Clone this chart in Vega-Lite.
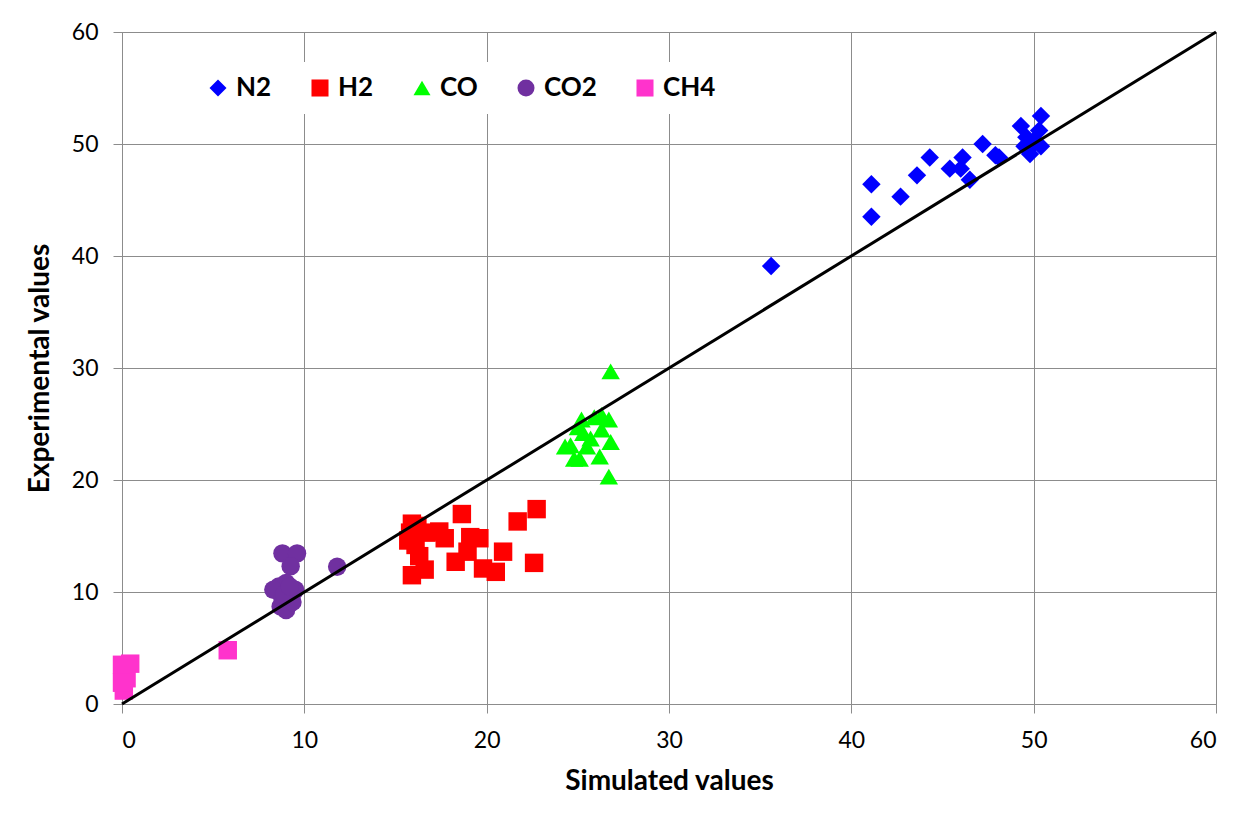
{
  "$schema": "https://vega.github.io/schema/vega-lite/v6.json",
  "width": 1094,
  "height": 672,
  "autosize": {"type": "none"},
  "padding": {"left": 122, "top": 32, "right": 29, "bottom": 110},
  "background": "white",
  "config": {
    "font": "Lato",
    "view": {"stroke": "#8c8c8c", "strokeWidth": 1},
    "axis": {
      "grid": true,
      "gridColor": "#8c8c8c",
      "gridWidth": 1,
      "gridOpacity": 1,
      "domainColor": "#8c8c8c",
      "domainWidth": 1,
      "tickColor": "#8c8c8c",
      "tickSize": 9,
      "tickWidth": 1,
      "labelFont": "Lato",
      "labelFontSize": 23,
      "labelColor": "black",
      "titleFont": "Lato",
      "titleFontSize": 28,
      "titleFontWeight": "bold",
      "titleColor": "black"
    }
  },
  "datasets": {
    "points": [
      {"gas": "N2", "sim": 35.6, "exp": 39.1},
      {"gas": "N2", "sim": 41.1, "exp": 46.4},
      {"gas": "N2", "sim": 41.1, "exp": 43.5},
      {"gas": "N2", "sim": 42.7, "exp": 45.3},
      {"gas": "N2", "sim": 43.6, "exp": 47.2},
      {"gas": "N2", "sim": 44.3, "exp": 48.8},
      {"gas": "N2", "sim": 45.4, "exp": 47.8},
      {"gas": "N2", "sim": 46.1, "exp": 48.8},
      {"gas": "N2", "sim": 46.0, "exp": 47.8},
      {"gas": "N2", "sim": 46.5, "exp": 46.8},
      {"gas": "N2", "sim": 47.2, "exp": 50.0},
      {"gas": "N2", "sim": 47.9, "exp": 49.0},
      {"gas": "N2", "sim": 48.1, "exp": 48.8},
      {"gas": "N2", "sim": 49.3, "exp": 51.6},
      {"gas": "N2", "sim": 50.4, "exp": 52.5},
      {"gas": "N2", "sim": 50.3, "exp": 51.2},
      {"gas": "N2", "sim": 49.5, "exp": 49.8},
      {"gas": "N2", "sim": 49.8, "exp": 49.1},
      {"gas": "N2", "sim": 50.4, "exp": 49.8},
      {"gas": "N2", "sim": 50.0, "exp": 50.3},
      {"gas": "N2", "sim": 49.6, "exp": 50.6},
      {"gas": "N2", "sim": 49.7, "exp": 49.5},
      {"gas": "H2", "sim": 15.9, "exp": 16.1},
      {"gas": "H2", "sim": 15.8, "exp": 15.3},
      {"gas": "H2", "sim": 16.1, "exp": 14.2},
      {"gas": "H2", "sim": 16.3, "exp": 13.2},
      {"gas": "H2", "sim": 16.7, "exp": 15.3},
      {"gas": "H2", "sim": 17.4, "exp": 15.4},
      {"gas": "H2", "sim": 17.7, "exp": 14.8},
      {"gas": "H2", "sim": 18.64, "exp": 16.96},
      {"gas": "H2", "sim": 19.1, "exp": 14.9},
      {"gas": "H2", "sim": 19.6, "exp": 14.8},
      {"gas": "H2", "sim": 18.95, "exp": 13.6},
      {"gas": "H2", "sim": 18.3, "exp": 12.7},
      {"gas": "H2", "sim": 19.8, "exp": 12.1},
      {"gas": "H2", "sim": 20.5, "exp": 11.8},
      {"gas": "H2", "sim": 20.9, "exp": 13.6},
      {"gas": "H2", "sim": 21.7, "exp": 16.3},
      {"gas": "H2", "sim": 22.74, "exp": 17.4},
      {"gas": "H2", "sim": 22.6, "exp": 12.6},
      {"gas": "H2", "sim": 15.9, "exp": 11.5},
      {"gas": "H2", "sim": 16.6, "exp": 12.0},
      {"gas": "H2", "sim": 16.2, "exp": 15.9},
      {"gas": "H2", "sim": 15.7, "exp": 14.6},
      {"gas": "CO", "sim": 26.8, "exp": 29.7},
      {"gas": "CO", "sim": 26.7, "exp": 20.3},
      {"gas": "CO", "sim": 25.2, "exp": 25.4},
      {"gas": "CO", "sim": 25.9, "exp": 25.6},
      {"gas": "CO", "sim": 26.3, "exp": 25.8},
      {"gas": "CO", "sim": 26.7, "exp": 25.4},
      {"gas": "CO", "sim": 24.3, "exp": 23.0},
      {"gas": "CO", "sim": 24.6, "exp": 23.1},
      {"gas": "CO", "sim": 25.3, "exp": 24.2},
      {"gas": "CO", "sim": 25.7, "exp": 23.7},
      {"gas": "CO", "sim": 26.8, "exp": 23.4},
      {"gas": "CO", "sim": 25.1, "exp": 21.9},
      {"gas": "CO", "sim": 26.2, "exp": 22.1},
      {"gas": "CO", "sim": 24.8, "exp": 21.9},
      {"gas": "CO", "sim": 25.5, "exp": 23.0},
      {"gas": "CO", "sim": 26.3, "exp": 24.5},
      {"gas": "CO", "sim": 25.0, "exp": 24.7},
      {"gas": "CO2", "sim": 8.8, "exp": 13.45},
      {"gas": "CO2", "sim": 9.6, "exp": 13.45},
      {"gas": "CO2", "sim": 9.25, "exp": 12.3},
      {"gas": "CO2", "sim": 11.8, "exp": 12.25},
      {"gas": "CO2", "sim": 8.6, "exp": 10.5},
      {"gas": "CO2", "sim": 9.0, "exp": 10.8},
      {"gas": "CO2", "sim": 9.35, "exp": 9.9},
      {"gas": "CO2", "sim": 8.3, "exp": 10.2},
      {"gas": "CO2", "sim": 8.7, "exp": 8.7},
      {"gas": "CO2", "sim": 9.0, "exp": 8.4},
      {"gas": "CO2", "sim": 9.35, "exp": 9.1},
      {"gas": "CO2", "sim": 8.8, "exp": 9.4},
      {"gas": "CO2", "sim": 9.5, "exp": 10.2},
      {"gas": "CO2", "sim": 8.9, "exp": 9.8},
      {"gas": "CO2", "sim": 9.2, "exp": 10.5},
      {"gas": "CH4", "sim": 0.0, "exp": 3.5},
      {"gas": "CH4", "sim": 0.45, "exp": 3.6},
      {"gas": "CH4", "sim": 0.25, "exp": 2.3},
      {"gas": "CH4", "sim": 0.1, "exp": 1.2},
      {"gas": "CH4", "sim": 0.0, "exp": 1.9},
      {"gas": "CH4", "sim": 5.8, "exp": 4.8}
    ],
    "diag": [
      {"sim": 0, "exp": 0},
      {"sim": 60, "exp": 60}
    ]
  },
  "layer": [
    {
      "data": {"name": "points"},
      "mark": {"type": "point", "filled": true, "opacity": 1, "size": 340},
      "encoding": {
        "x": {
          "field": "sim",
          "type": "quantitative",
          "scale": {"domain": [0, 60], "nice": false},
          "axis": {
            "values": [0, 10, 20, 30, 40, 50, 60],
            "title": "Simulated values",
            "labelPadding": 16,
            "titleY": 77,
            "titleBaseline": "middle"
          }
        },
        "y": {
          "field": "exp",
          "type": "quantitative",
          "scale": {"domain": [0, 60], "nice": false},
          "axis": {
            "values": [0, 10, 20, 30, 40, 50, 60],
            "title": "Experimental values",
            "labelPadding": 15,
            "titleX": -82,
            "titleBaseline": "middle"
          }
        },
        "color": {
          "field": "gas",
          "type": "nominal",
          "scale": {
            "domain": ["N2", "H2", "CO", "CO2", "CH4"],
            "range": ["#0000ff", "#ff0000", "#00ff00", "#7030a0", "#ff33cc"]
          },
          "legend": {
            "title": null,
            "orient": "none",
            "legendX": 70,
            "legendY": 30,
            "direction": "horizontal",
            "columns": 5,
            "fillColor": "white",
            "padding": 13,
            "symbolSize": 290,
            "symbolStrokeWidth": 0,
            "labelFont": "Lato",
            "labelFontSize": 26,
            "labelFontWeight": "bold",
            "labelColor": "black",
            "labelOffset": 5,
            "columnPadding": 35
          }
        },
        "shape": {
          "field": "gas",
          "type": "nominal",
          "scale": {
            "domain": ["N2", "H2", "CO", "CO2", "CH4"],
            "range": ["diamond", "square", "triangle-up", "circle", "square"]
          }
        }
      }
    },
    {
      "data": {"name": "diag"},
      "mark": {"type": "line", "color": "black", "strokeWidth": 3},
      "encoding": {
        "x": {"field": "sim", "type": "quantitative"},
        "y": {"field": "exp", "type": "quantitative"}
      }
    }
  ]
}
